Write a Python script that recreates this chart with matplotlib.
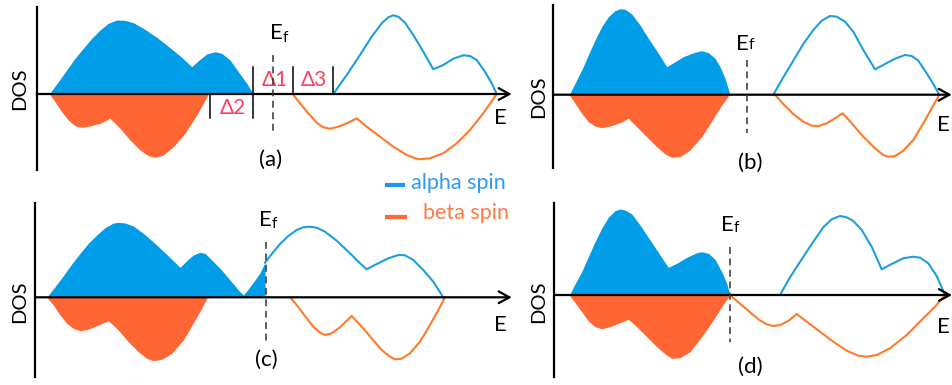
import matplotlib
matplotlib.use("Agg")
import matplotlib.pyplot as plt

plt.rcParams['font.family'] = ['Lato', 'DejaVu Sans']

# ---------------- data (E offset, DOS) per panel ----------------
# Panel (a)
a_alpha_occ_E = [12.6, 21.6, 30, 38.3, 46.6, 55, 63.3, 71.6, 80, 88.3, 96.6, 106.6, 120, 133.3,
                 145, 155, 161.6, 170, 178.3, 185, 193.3, 201.6, 210, 216.6]
a_alpha_occ_D = [0, 12.3, 24, 35.7, 45.7, 55.7, 64, 70.7, 74, 73.7, 71.3, 65.7, 56.7, 46.3,
                 36.7, 27.3, 33.3, 40, 42.3, 40.7, 34, 22.3, 10.7, 0]
a_beta_occ_E = [12.6, 18.3, 25, 31.6, 38.3, 45, 53.3, 63.3, 73.3, 83.3, 93.3, 103.3, 111.6, 118.3,
                126.6, 136.6, 148.3, 160, 166.6, 171.6]
a_beta_occ_D = [0, -7.7, -17.7, -26, -31.7, -33.3, -32, -29.3, -24.3, -34.3, -46, -56, -61.7, -63.3,
                -61, -52.7, -39.3, -21, -9.3, 0]
a_alpha_emp_E = [296.6, 310, 323.3, 335, 345, 351.6, 356.6, 361.6, 368.3, 376.6, 386.6, 396.6,
                 406.6, 416.6, 426.6, 433.3, 440, 448.3, 455, 460]
a_alpha_emp_D = [0, 19, 39, 57.3, 70.7, 76.7, 78.7, 77.3, 71.3, 59, 42.3, 24.7,
                 29, 35.3, 38.7, 38, 34, 22.3, 10.7, 0]
a_beta_emp_E = [256, 263.3, 271.6, 280, 286.6, 293.3, 301.6, 311.6, 320, 330, 343.3, 356.6, 370,
                381.6, 393.3, 406.6, 420, 433.3, 446.6, 460]
a_beta_emp_D = [0, -9.3, -19.3, -28.7, -33.3, -34.7, -32.7, -28.7, -24.3, -32.7, -42.7, -52.7, -61,
                -65.3, -64.3, -59.3, -49.3, -36, -19.3, 0]
a_fermi = 236.6

# Panel (b)
b_alpha_occ_E = [16, 21.7, 28.4, 35, 41.7, 48.4, 55, 61.7, 66.7, 71.7, 78.4, 86.7, 95, 105, 113.4,
                 121.7, 130, 140, 148.4, 155, 161.7, 166.7, 171.7, 176.7]
b_alpha_occ_D = [0, 11.4, 24.7, 39.7, 54.7, 68, 78, 84, 86, 85.4, 80.7, 69.7, 56.4, 41.4, 28,
                 33, 38, 42, 44, 42, 36.4, 28, 16.4, 0]
b_beta_occ_E = [16, 21.7, 28.4, 35, 41.7, 48.4, 56.7, 66.7, 75, 83.4, 93.4, 103.4, 111.7, 118.4,
                126.7, 136.7, 148.4, 160, 168.4, 176]
b_beta_occ_D = [0, -8.6, -18.6, -27, -31.3, -33, -31.3, -28, -23.6, -32, -42, -52, -59.3, -62.6,
                -62, -55.3, -42, -23.6, -10.3, 0]
b_alpha_emp_E = [220, 230, 240, 250, 260, 268.4, 276.7, 283.4, 291.7, 300, 310, 321.7, 331.7,
                 341.7, 351.7, 358.4, 365, 373.4, 380, 386]
b_alpha_emp_D = [0, 17.4, 34, 50.7, 64.7, 74, 78.7, 78, 73, 63, 44.7, 25.4, 30.7,
                 36, 39.7, 38.7, 34, 21.4, 10.7, 0]
b_beta_emp_E = [221.7, 230, 240, 250, 258.4, 265, 273.4, 281.7, 289.4, 298.4, 310, 321.7, 330,
                335, 341.7, 350, 360, 370, 378.4, 386]
b_beta_emp_D = [0, -9.3, -19.3, -27, -31, -31.3, -28.6, -23.6, -18.6, -28.6, -42, -53.6, -60.3,
                -62, -61.3, -56, -45.3, -28.6, -13.6, 0]
b_fermi = 194

# Panel (c)
c_alpha_occ_E = [11.7, 20, 28.3, 36.7, 45, 53.3, 61.7, 70, 78.3, 83.3, 90, 98.3, 108.3, 121.7,
                 133.3, 145, 151.7, 158.3, 165, 170, 176.7, 185, 195, 203.3, 208.3, 213.3,
                 220, 225, 230]
c_alpha_occ_D = [0, 10.6, 21.6, 33.3, 44, 54, 62.3, 69.6, 74.3, 75, 74.3, 71.3, 64, 52.3,
                 41.3, 30, 36.6, 42.3, 45, 44, 37.3, 29, 17.3, 7.3, 2.3, 8.3,
                 17.3, 24.6, 34.6]
c_beta_occ_E = [11.7, 18.3, 25, 31.7, 38.3, 45, 53.3, 63.3, 73.3, 83.3, 93.3, 103.3, 111.7, 118.3,
                126.7, 136.7, 148.3, 160, 166.7, 172.3]
c_beta_occ_D = [0, -7.7, -17.7, -26, -31, -33.4, -32, -27.7, -23.4, -32.7, -44.4, -54.4, -61, -63.4,
                -62, -56, -42.7, -22.7, -11, 0]
c_alpha_emp_E = [230, 236.7, 245, 253.3, 261.7, 268.3, 275, 281.7, 290, 301.7, 315, 325, 331.7,
                 341.7, 353.3, 363.3, 370, 378.3, 388.3, 398.3, 408.3]
c_alpha_emp_D = [34.6, 43.3, 53.3, 61.3, 67.3, 70, 70.6, 69.6, 65.6, 56.6, 44, 34, 28,
                 33.3, 39, 42.3, 42, 37.3, 27.3, 15.6, 0]
c_beta_emp_E = [255, 261.7, 270, 278.3, 285, 290, 296.7, 305, 316.7, 326.7, 336.7, 346.7, 355,
                360, 366.7, 375, 385, 395, 403.3, 410]
c_beta_emp_D = [0, -7.7, -18.7, -29.4, -35.4, -37.7, -36, -30, -18.7, -29.4, -41, -52.7, -59.4,
                -62, -61.4, -56, -44.4, -27.7, -12.7, 0]
c_fermi = 231

# Panel (d)
d_alpha_occ_E = [15, 20.7, 27.4, 34, 40.7, 47.4, 54, 60.7, 65.7, 70.7, 77.4, 85.7, 95.7, 105.7,
                 114, 122.4, 132.4, 142.4, 147.4, 154, 160.7, 167.4, 172.4, 175.7]
d_alpha_occ_D = [0, 11, 23.3, 38.3, 53.3, 66.7, 77.7, 84.3, 86, 85, 81, 70, 55, 40,
                 27.7, 31.7, 37.7, 42.3, 43.3, 41.7, 35.7, 23.3, 11.7, 0]
d_beta_occ_E = [15, 20.7, 27.4, 34, 40.7, 47.4, 55.7, 65.7, 74, 82.4, 92.4, 102.4, 110.7, 117.4,
                125.7, 135.7, 147.4, 159, 167.4, 175.7]
d_beta_occ_D = [0, -7.7, -16.7, -26, -31.7, -33.7, -31.7, -27.7, -24.3, -31.7, -41.7, -51.7, -59,
                -63.3, -62.7, -56.7, -41.7, -25, -11.7, 0]
d_alpha_emp_E = [225.7, 235.7, 247.4, 259, 269, 277.4, 285.7, 292.4, 299, 307.4, 317.4, 327.4,
                 337.4, 349, 359, 365.7, 374, 382.4, 390.7]
d_alpha_emp_D = [0, 17.7, 35.7, 53.3, 67.7, 75.7, 79, 77.7, 74, 65, 48.3, 25.7,
                 31, 36.7, 38.3, 37.3, 31.7, 19, 0]
d_beta_emp_E = [175.7, 184, 194, 204, 212.4, 219, 225.7, 234, 242.4, 252.4, 265.7, 279, 292.4,
                304, 312.4, 322.4, 335.7, 352.4, 369, 380.7, 390.7]
d_beta_emp_D = [0, -7.3, -15.7, -24.3, -29.3, -31, -30, -26, -19, -26.7, -36.7, -46.7, -55.7,
                -60.7, -61.7, -60, -53.3, -40, -23.3, -11.7, 0]
d_fermi = 175.7

panel_labels = ['(a)', '(b)', '(c)', '(d)']
legend_labels = ['alpha spin', 'beta spin']
gap_labels = ['Δ1', 'Δ2', 'Δ3']

# ---------------- styling ----------------
BLUE_FILL = '#009EE8'
BLUE_LINE = '#1C9FDD'
ORANGE_FILL = '#FF6633'
ORANGE_LINE = '#FF7A2A'
GAP_COLOR = '#FF3D5E'
W, H = 953, 385

fig = plt.figure(figsize=(W / 100, H / 100), dpi=100)


def panel_axes(ox, oy):
    ax = fig.add_axes([0, 0, 1, 1])
    ax.set_xlim(-ox, W - ox)
    ax.set_ylim(oy - H, oy)
    ax.axis('off')
    ax.patch.set_alpha(0)
    return ax


def draw_panel(ax, occ, emp, fermi, vspan, tip, fermi_span, ef_pos, lab_pos, e_pos, dos_pos, label):
    (aE, aD), (bE, bD) = occ
    ax.fill_between(aE, aD, 0, color=BLUE_FILL, lw=0, zorder=2)
    ax.fill_between(bE, bD, 0, color=ORANGE_FILL, lw=0, zorder=2)
    (aeE, aeD), (beE, beD) = emp
    ax.plot(aeE, aeD, color=BLUE_LINE, lw=1.5, zorder=3, solid_joinstyle='round')
    ax.plot(beE, beD, color=ORANGE_LINE, lw=1.5, zorder=3, solid_joinstyle='round')
    # axes
    ax.plot([0, 0], vspan, color='black', lw=1.6, zorder=4)
    ax.annotate('', xy=(tip, 0), xytext=(0, 0),
                arrowprops=dict(arrowstyle='->,head_length=0.55,head_width=0.3',
                                lw=1.6, color='black', shrinkA=0, shrinkB=0,
                                mutation_scale=14), zorder=5)
    # Fermi level
    ax.plot([fermi, fermi], fermi_span, color='#333333', lw=1.1,
            dashes=(4.5, 3), zorder=6)
    ex, ey, fx, fy = ef_pos
    ax.text(ex, ey, 'E', fontsize=16, ha='center', va='center', color='black')
    ax.text(fx, fy, 'f', fontsize=11, ha='left', va='baseline', color='black')
    ax.text(lab_pos[0], lab_pos[1], label, fontsize=16, ha='center', va='center')
    ax.text(e_pos[0], e_pos[1], 'E', fontsize=16, ha='center', va='center')
    ax.text(dos_pos[0], dos_pos[1], 'DOS', fontsize=14.5, ha='center', va='center',
            rotation=90)


ax_a = panel_axes(36.7, 94)
draw_panel(ax_a,
           [(a_alpha_occ_E, a_alpha_occ_D), (a_beta_occ_E, a_beta_occ_D)],
           [(a_alpha_emp_E, a_alpha_emp_D), (a_beta_emp_E, a_beta_emp_D)],
           a_fermi, (87.3, -76), 475, (39, -37.7),
           (239.5, 60.7, 245.5, 52.3), (234, -66), (463.3, -24), (-16.7, 5),
           panel_labels[0])
# gap markers in (a)
for x in [216.6, 256, 296]:
    ax_a.plot([x, x], [0, 27.3], color='black', lw=1.1, zorder=4)
for x in [173.3, 216.6]:
    ax_a.plot([x, x], [0, -24.3], color='black', lw=1.1, zorder=4)
ax_a.text(238.3, 14, gap_labels[0], color=GAP_COLOR, fontsize=15, ha='center', va='center')
ax_a.text(196.6, -14.3, gap_labels[1], color=GAP_COLOR, fontsize=15, ha='center', va='center')
ax_a.text(277.3, 14, gap_labels[2], color=GAP_COLOR, fontsize=15, ha='center', va='center')

ax_b = panel_axes(553.3, 94.7)
draw_panel(ax_b,
           [(b_alpha_occ_E, b_alpha_occ_D), (b_beta_occ_E, b_beta_occ_D)],
           [(b_alpha_emp_E, b_alpha_emp_D), (b_beta_emp_E, b_beta_emp_D)],
           b_fermi, (89.7, -73.3), 398.4, (34.7, -38.6),
           (188.7, 50.9, 195, 45.4), (196.7, -68.6), (390, -30.3), (-15, -2),
           panel_labels[1])

ax_c = panel_axes(35, 297.3)
draw_panel(ax_c,
           [(c_alpha_occ_E, c_alpha_occ_D), (c_beta_occ_E, c_beta_occ_D)],
           [(c_alpha_emp_E, c_alpha_emp_D), (c_beta_emp_E, c_beta_emp_D)],
           c_fermi, (94, -79.4), 476.7, (55.6, -46),
           (230, 76.8, 236.5, 69.3), (231.7, -62.7), (465, -27.7), (-15, -4.4),
           panel_labels[2])

ax_d = panel_axes(554.3, 295)
draw_panel(ax_d,
           [(d_alpha_occ_E, d_alpha_occ_D), (d_beta_occ_E, d_beta_occ_D)],
           [(d_alpha_emp_E, d_alpha_emp_D), (d_beta_emp_E, d_beta_emp_D)],
           d_fermi, (92.3, -81.7), 397.7, (48.3, -46.7),
           (173.2, 70, 179.5, 63.3), (195.7, -71.7), (389, -31.7), (-16, -6.7),
           panel_labels[3])

# legend (figure pixel coordinates)
ax_leg = fig.add_axes([0, 0, 1, 1])
ax_leg.set_xlim(0, W)
ax_leg.set_ylim(H, 0)
ax_leg.axis('off')
ax_leg.patch.set_alpha(0)
ax_leg.plot([385, 405], [185, 185], color='#1E96F0', lw=3, solid_capstyle='butt')
ax_leg.text(411, 183, legend_labels[0], color='#2E9BF0', fontsize=15.5, ha='left', va='center')
ax_leg.plot([385, 407], [216.5, 216.5], color='#FF6A33', lw=3, solid_capstyle='butt')
ax_leg.text(423, 213, legend_labels[1], color='#FF7A45', fontsize=15.5, ha='left', va='center')

fig.savefig('out.png', dpi=100)
